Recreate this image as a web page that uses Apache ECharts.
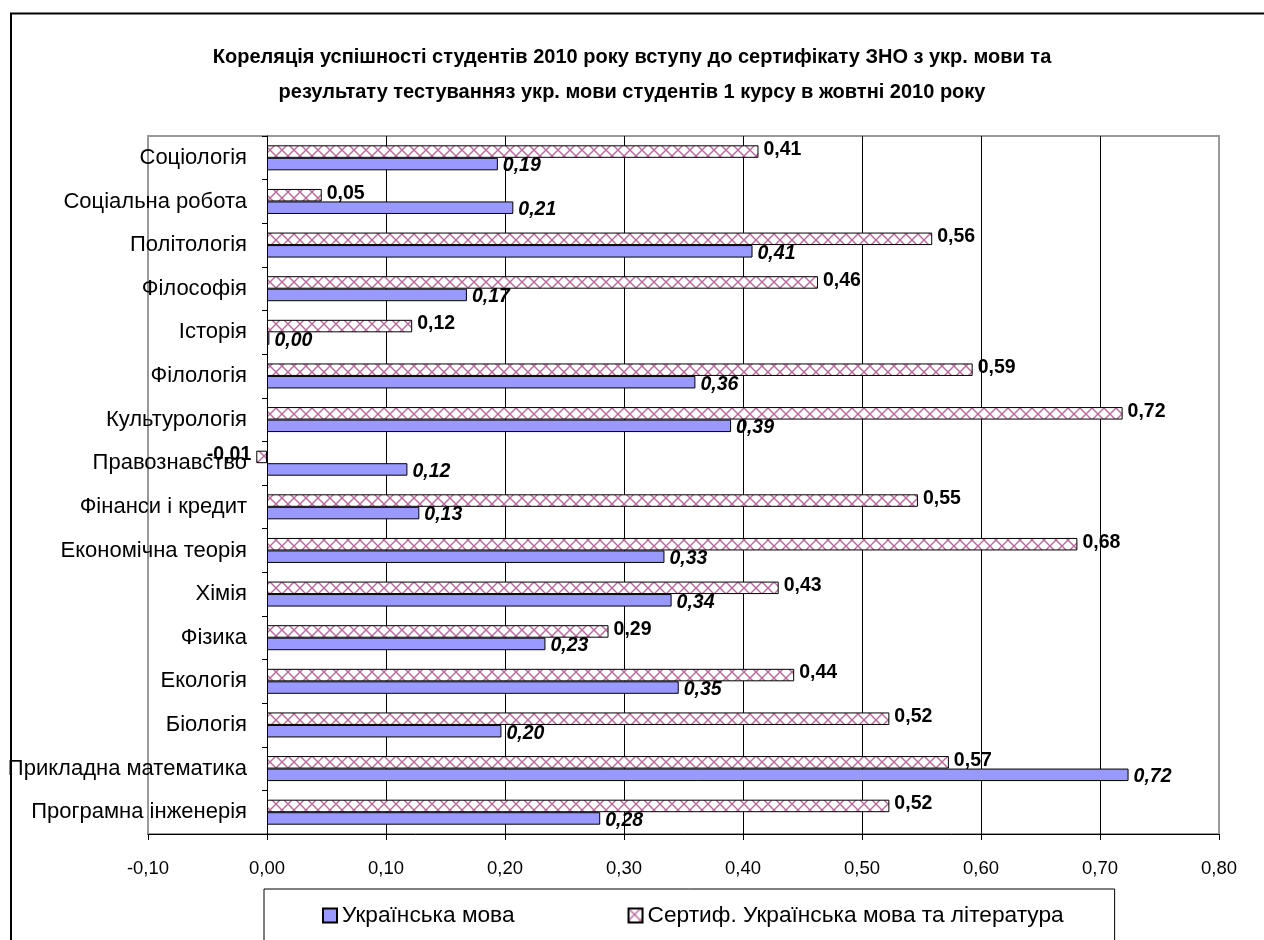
<!DOCTYPE html>
<html><head><meta charset="utf-8">
<script src="https://cdn.jsdelivr.net/npm/echarts@6/dist/echarts.min.js"></script>
<style>html,body{margin:0;padding:0;background:#fff}#c{width:1264px;height:940px}</style>
</head><body><div id="c"></div>
<script>
// Categories listed bottom -> top
const categories = ['Програмна інженерія','Прикладна математика','Біологія','Екологія','Фізика','Хімія','Економічна теорія','Фінанси і кредит','Правознавство','Культурологія','Філологія','Історія','Філософія','Політологія','Соціальна робота','Соціологія'];
const ukrMova = [0.280,0.724,0.197,0.346,0.234,0.340,0.334,0.128,0.118,0.390,0.360,0.002,0.168,0.408,0.207,0.194];
const sertif  = [0.523,0.573,0.523,0.443,0.287,0.430,0.681,0.547,-0.009,0.719,0.593,0.122,0.463,0.559,0.046,0.413];
const seriesNames = ['Українська мова','Сертиф. Українська мова та література'];
const titleLines = ['Кореляція успішності студентів 2010 року вступу до сертифікату ЗНО з укр. мови та','результату тестуванняз укр. мови студентів 1 курсу в жовтні 2010 року'];
const xMin = -0.1, xMax = 0.8, xStep = 0.1;

const FONT = '"Liberation Sans", Arial, sans-serif';
const fmt = v => (typeof v === 'number' ? v : v.value).toFixed(2).replace('.', ',');

// cross-hatch pattern for the certificate series
const pc = document.createElement('canvas');
pc.width = 12; pc.height = 12;
const g = pc.getContext('2d');
g.fillStyle = '#fff'; g.fillRect(0,0,12,12);
g.strokeStyle = '#b8689a'; g.lineWidth = 1.4;
g.beginPath(); g.moveTo(0,0); g.lineTo(12,12); g.moveTo(12,0); g.lineTo(0,12); g.stroke();

const splitColors = [];
for (let i = 0; i <= Math.round((xMax - xMin)/xStep); i++) splitColors.push('#000');
splitColors[0] = '#999'; splitColors[splitColors.length-1] = '#999';

const chart = echarts.init(document.getElementById('c'), null, {renderer:'canvas'});
chart.setOption({
  backgroundColor:'#fff',
  animation:false,
  textStyle:{fontFamily:FONT},
  graphic:[{type:'rect', shape:{x:11, y:13.5, width:1300, height:1000}, style:{fill:'none', stroke:'#000', lineWidth:2}, z:100}],
  title:{
    text: titleLines.join('\n'), left:'center', top:40, padding:0,
    textStyle:{fontFamily:FONT, fontSize:20, fontWeight:'bold', color:'#000', lineHeight:35}
  },
  legend:{
    data: seriesNames, left:264, top:889, orient:'horizontal',
    padding:[15,51,40,58], itemGap:113, itemWidth:14, itemHeight:14,
    borderColor:'#000', borderWidth:1, icon:'rect',
    textStyle:{fontFamily:FONT, fontSize:22.7, color:'#000'}
  },
  grid:{left:148, right:45, top:136, bottom:106, show:true, borderColor:'#999', borderWidth:2, backgroundColor:'#fff', containLabel:false, outerBoundsMode:'none'},
  xAxis:{
    type:'value', min:xMin, max:xMax, interval:xStep,
    axisLine:{show:true, lineStyle:{color:'#000', width:1}},
    axisTick:{show:true, length:6, lineStyle:{color:'#000'}},
    axisLabel:{formatter: v => v.toFixed(2).replace('.', ','), fontSize:18.5, color:'#000', margin:25, fontFamily:FONT},
    splitLine:{show:true, lineStyle:{color:splitColors, width:1}}
  },
  yAxis:{
    type:'category', data:categories,
    axisLine:{show:true, onZero:true, lineStyle:{color:'#000', width:1}},
    axisTick:{show:true, length:5, lineStyle:{color:'#000'}},
    axisLabel:{fontSize:22, color:'#000', margin:-99, align:'right', fontFamily:FONT},
    splitLine:{show:false}
  },
  series:[
    {name:seriesNames[1], type:'bar', data:sertif, barWidth:12.5, barGap:'0%',
     itemStyle:{color:{image:pc, repeat:'repeat'}, borderColor:'#000', borderWidth:1},
     label:{show:true, position:'outside', distance:5, offset:[0,-2], formatter:fmt, fontWeight:'bold', fontSize:19.5, color:'#000', fontFamily:FONT}},
    {name:seriesNames[0], type:'bar', data:ukrMova, barWidth:12.5, barGap:'0%',
     itemStyle:{color:'#9999ff', borderColor:'#000', borderWidth:1},
     label:{show:true, position:'right', distance:5, offset:[0,2], formatter:fmt, fontStyle:'italic', fontWeight:'bold', fontSize:19.5, color:'#000', fontFamily:FONT}}
  ]
});
</script></body></html>
